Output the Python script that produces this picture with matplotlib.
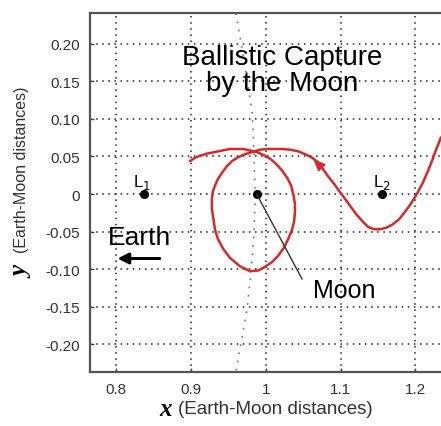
import matplotlib
matplotlib.use("Agg")
import matplotlib.pyplot as plt

plt.rcParams['font.family'] = ['Liberation Sans', 'DejaVu Sans']

# trajectory (Earth-Moon rotating frame)
traj_x = [1.234, 1.231, 1.228, 1.223, 1.217, 1.210, 1.202, 1.194, 1.186, 1.178,
          1.169, 1.161, 1.153, 1.145, 1.137, 1.129, 1.121, 1.110, 1.099, 1.091,
          1.083, 1.076, 1.069, 1.061, 1.053, 1.043, 1.033, 1.022, 1.012, 1.002,
          0.992, 0.982, 0.972, 0.963, 0.955, 0.948, 0.942, 0.936, 0.932, 0.929,
          0.928, 0.928, 0.930, 0.932, 0.936, 0.943, 0.952, 0.965, 0.979, 0.990,
          0.999, 1.008, 1.016, 1.024, 1.030, 1.035, 1.038, 1.039, 1.039, 1.037,
          1.034, 1.029, 1.022, 1.014, 1.006, 0.997, 0.988, 0.979, 0.970, 0.961,
          0.952, 0.942, 0.932, 0.922, 0.912, 0.905, 0.899]
traj_y = [0.075, 0.067, 0.060, 0.046, 0.031, 0.015, 0.000, -0.013, -0.024, -0.034,
          -0.041, -0.045, -0.047, -0.047, -0.044, -0.036, -0.027, -0.012, 0.003, 0.014,
          0.024, 0.034, 0.043, 0.049, 0.053, 0.057, 0.059, 0.060, 0.060, 0.060,
          0.059, 0.056, 0.053, 0.049, 0.044, 0.037, 0.029, 0.020, 0.011, 0.002,
          -0.007, -0.020, -0.033, -0.047, -0.060, -0.073, -0.085, -0.096, -0.103, -0.102,
          -0.097, -0.091, -0.083, -0.072, -0.060, -0.048, -0.036, -0.025, -0.013, -0.001,
          0.011, 0.021, 0.031, 0.040, 0.047, 0.052, 0.056, 0.058, 0.060, 0.060,
          0.060, 0.058, 0.056, 0.054, 0.051, 0.048, 0.044]
arrow_i = 23

# grey dotted boundary curve
zv_x = [0.960, 0.966, 0.975, 0.982, 0.984, 0.986, 0.984, 0.980, 0.975, 0.968, 0.960]
zv_y = [0.241, 0.207, 0.153, 0.107, 0.060, 0.000, -0.060, -0.107, -0.153, -0.193, -0.237]

moon = (0.9878, 0.0)
l1 = (0.8369, 0.0)
l2 = (1.1557, 0.0)

yticks = [0.20, 0.15, 0.10, 0.05, 0.0, -0.05, -0.10, -0.15, -0.20]
ytick_labels = ['0.20', '0.15', '0.10', '0.05', '0', '-0.05', '-0.10', '-0.15', '-0.20']
xticks = [0.8, 0.9, 1.0, 1.1, 1.2]
xtick_labels = ['0.8', '0.9', '1', '1.1', '1.2']

fig = plt.figure(figsize=(4.41, 4.27), dpi=100)
ax = fig.add_axes([90 / 441, 54 / 427, 351 / 441, 359 / 427])
ax.set_xlim(0.765, 1.2343)
ax.set_ylim(-0.2373, 0.2413)

ax.set_xticks(xticks)
ax.set_xticklabels(xtick_labels)
ax.set_yticks(yticks)
ax.set_yticklabels(ytick_labels)
ax.tick_params(direction='in', length=3, width=1, color='#444', labelsize=11,
               labelcolor='#333', pad=7)
ax.grid(True, linestyle=(0, (1, 3)), color='#222', linewidth=1.1)
for side in ['left', 'bottom', 'top']:
    ax.spines[side].set_color('#555')
    ax.spines[side].set_linewidth(1.6)
ax.spines['right'].set_visible(False)

ax.plot(zv_x, zv_y, linestyle=(0, (1, 4)), color='#777', linewidth=1.2)
ax.plot(traj_x, traj_y, color='#d42a2a', linewidth=1.8, solid_joinstyle='round')
ax.annotate('', xy=(traj_x[arrow_i], traj_y[arrow_i]),
            xytext=(traj_x[arrow_i - 2], traj_y[arrow_i - 2]),
            arrowprops=dict(arrowstyle='-|>,head_width=0.3,head_length=0.7',
                            color='#d42a2a', lw=1.2, mutation_scale=10))

for p in [moon, l1, l2]:
    ax.plot(p[0], p[1], 'o', color='black', markersize=5.5)

ax.text(l1[0] - 0.002, 0.004, r'L$_1$', ha='center', va='bottom', fontsize=12)
ax.text(l2[0], 0.004, r'L$_2$', ha='center', va='bottom', fontsize=12)

ax.plot([moon[0], 1.0485], [moon[1], -0.1133], color='#333', linewidth=1)
ax.text(1.105, -0.128, 'Moon', ha='center', va='center', fontsize=18)

ax.text(0.8312, -0.057, 'Earth', ha='center', va='center', fontsize=19)
ax.annotate('', xy=(0.798, -0.086), xytext=(0.862, -0.086),
            arrowprops=dict(arrowstyle='-|>', color='black', lw=2.2,
                            mutation_scale=16))

ax.text(1.022, 0.165, 'Ballistic Capture\nby the Moon', ha='center', va='center',
        fontsize=20, linespacing=1.0)

fig.text(178 / 441, 1 - 410 / 427, '(Earth-Moon distances)', ha='left', va='center',
         fontsize=13.5, color='#333')
fig.text(172 / 441, 1 - 410 / 427, 'x', ha='right', va='center', fontsize=18,
         family=['Liberation Serif', 'DejaVu Serif'], style='italic', weight='bold')
fig.text(22 / 441, 1 - 170 / 427, '(Earth-Moon distances)', ha='center', va='center',
         rotation=90, fontsize=11.5, color='#333')
fig.text(22 / 441, 1 - 272 / 427, 'y', ha='center', va='center', rotation=90, fontsize=18,
         family=['Liberation Serif', 'DejaVu Serif'], style='italic', weight='bold')

fig.savefig('out.png', dpi=100)
